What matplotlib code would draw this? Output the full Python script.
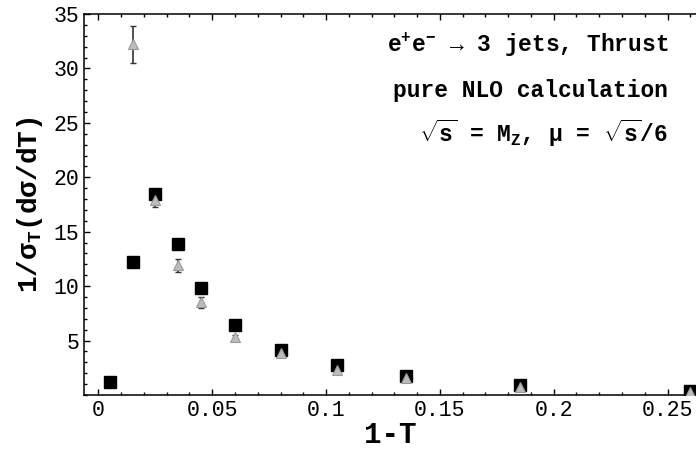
import matplotlib
matplotlib.use("Agg")
import matplotlib.pyplot as plt
from matplotlib.ticker import MultipleLocator

plt.rcParams["font.family"] = ["Liberation Mono", "DejaVu Sans"]
plt.rcParams["mathtext.fontset"] = "custom"
plt.rcParams["mathtext.rm"] = "Liberation Mono:bold"
plt.rcParams["mathtext.it"] = "Liberation Mono:bold"
plt.rcParams["mathtext.bf"] = "Liberation Mono:bold"

# squares (black)
x_sq = [0.005, 0.015, 0.025, 0.035, 0.045, 0.06, 0.08, 0.105, 0.135, 0.185, 0.26]
y_sq = [1.2, 12.25, 18.45, 13.9, 9.8, 6.45, 4.15, 2.75, 1.7, 0.92, 0.38]

# triangles (grey, pure NLO) with errors
x_tr = [0.015, 0.025, 0.035, 0.045, 0.06, 0.08, 0.105, 0.135, 0.185, 0.26]
y_tr = [32.2, 17.9, 11.9, 8.5, 5.3, 3.85, 2.3, 1.55, 0.75, 0.28]
e_tr = [1.7, 0.6, 0.6, 0.5, 0.2, 0.15, 0.1, 0.1, 0.05, 0.05]

fig = plt.figure(figsize=(6.96, 4.55), dpi=100)
ax = fig.add_axes([0.1211, 0.1319, 0.8789, 0.8373])

ax.errorbar(x_tr, y_tr, yerr=e_tr, fmt="none", ecolor="#333333", elinewidth=1.2,
            capsize=2, capthick=1, zorder=2)
ax.plot(x_sq, y_sq, "s", color="black", markersize=8, zorder=3)
ax.plot(x_tr, y_tr, "^", color="#bcbcbc", markeredgecolor="#999999",
        markersize=6.5, markeredgewidth=0.8, zorder=4)

ax.set_xlim(-0.0062, 0.2625)
ax.set_ylim(0, 35)
ax.set_xticks([0, 0.05, 0.1, 0.15, 0.2, 0.25])
ax.set_xticklabels(["0", "0.05", "0.1", "0.15", "0.2", "0.25"])
ax.set_yticks([5, 10, 15, 20, 25, 30, 35])
ax.xaxis.set_minor_locator(MultipleLocator(0.01))
ax.yaxis.set_minor_locator(MultipleLocator(1))
ax.tick_params(which="both", direction="in", top=True, labelsize=15.5, width=1)
ax.tick_params(which="major", length=4)
ax.tick_params(which="minor", length=2.5)
ax.spines["right"].set_visible(False)
for s in ["left", "bottom", "top"]:
    ax.spines[s].set_linewidth(1.1)

ax.set_xlabel("1-T", fontsize=21, fontweight="bold", labelpad=0)
ax.set_ylabel(r"1/σ$_\mathrm{T}$(dσ/dT)", fontsize=20, fontweight="bold", labelpad=6)

tkw = dict(transform=ax.transAxes, ha="right", fontsize=16.5, fontweight="bold")
ax.text(0.955, 0.919, r"e$^{+}$e$^{-}$ → 3 jets, Thrust", va="center", **tkw)
ax.text(0.955, 0.80, "pure NLO calculation", va="center", **tkw)
ax.text(0.955, 0.688, r"$\sqrt{s}$ = M$_\mathrm{Z}$, μ = $\sqrt{s}$/6", va="center", **tkw)

fig.savefig("out.png", dpi=100)
